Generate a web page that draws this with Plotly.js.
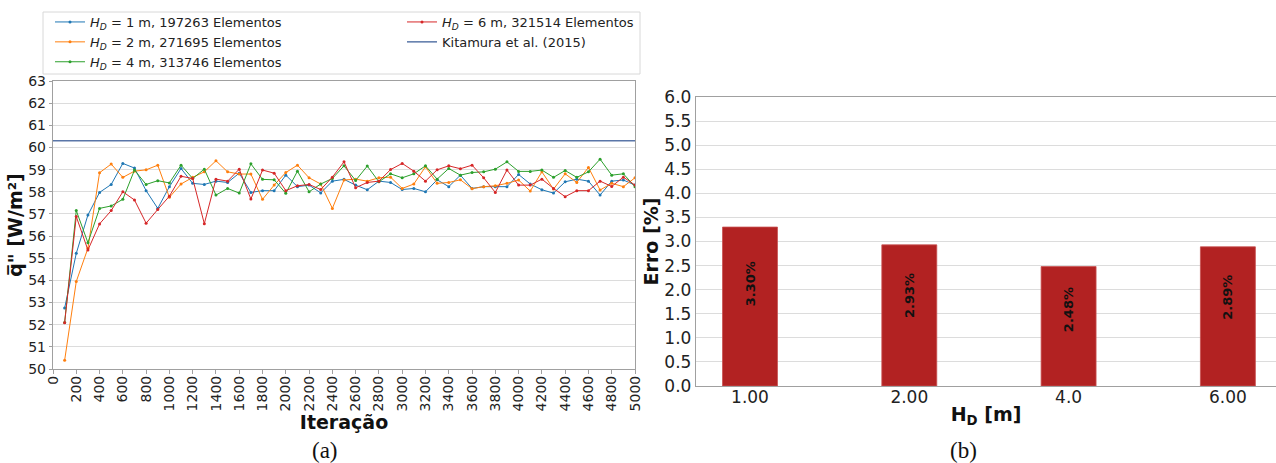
<!DOCTYPE html>
<html>
<head>
<meta charset="utf-8">
<script src="https://cdn.plot.ly/plotly-3.0.1.min.js"></script>
<style>html,body{margin:0;padding:0;background:#fff;}#chart{width:1276px;height:463px;}</style>
</head>
<body>
<div id="chart"></div>
<script>
// ---- data (a) ----
const iteracoes = [100,200,300,400,500,600,700,800,900,1000,1100,1200,1300,1400,1500,1600,1700,1800,1900,2000,
  2100,2200,2300,2400,2500,2600,2700,2800,2900,3000,3100,3200,3300,3400,3500,3600,3700,3800,3900,4000,
  4100,4200,4300,4400,4500,4600,4700,4800,4900,5000];
const qH1 = [52.75,55.22,56.95,57.97,58.33,59.28,59.07,58.05,57.25,58.23,59.05,58.38,58.33,58.48,58.42,58.84,57.97,58.05,58.05,58.75,
  58.23,58.30,57.95,58.48,58.56,58.30,58.09,58.48,58.42,58.10,58.15,58.00,58.54,58.23,58.75,58.15,58.23,58.23,58.23,58.78,
  58.35,58.09,57.94,58.45,58.57,58.48,57.85,58.48,58.53,58.30];
const qH2 = [50.39,53.95,55.45,58.86,59.25,58.65,58.93,58.99,59.20,57.75,58.35,58.65,58.90,59.40,58.90,58.80,58.80,57.66,58.30,58.87,
  59.20,58.63,58.35,57.25,58.53,58.57,58.48,58.63,58.66,58.15,58.35,59.13,58.38,58.42,58.54,58.14,58.23,58.27,58.38,58.53,
  58.03,58.90,58.12,58.81,58.42,59.10,58.08,58.38,58.23,58.63];
const qH4 = [52.10,57.15,55.70,57.25,57.36,57.66,58.98,58.33,58.50,58.40,59.20,58.60,59.02,57.85,58.15,57.94,59.26,58.56,58.54,57.93,
  58.93,58.00,58.35,58.60,59.17,58.51,59.16,58.45,58.81,58.63,58.81,59.17,58.57,59.05,58.75,58.87,58.90,59.02,59.35,58.92,
  58.92,58.98,58.65,58.96,58.65,58.90,59.47,58.75,58.81,58.23];
const qH6 = [52.09,56.88,55.37,56.55,57.15,58.00,57.63,56.58,57.20,57.80,58.70,58.60,56.56,58.57,58.48,59.02,57.67,58.98,58.84,58.05,
  58.27,58.33,58.10,58.66,59.35,58.18,58.42,58.48,59.00,59.28,58.93,58.48,58.99,59.17,59.04,59.20,58.63,57.97,58.98,58.30,
  58.30,58.57,58.15,57.78,58.05,58.05,58.48,58.24,58.66,58.30];
const kitamuraX = [0, 5000];
const kitamuraY = [60.3, 60.3];
const seriesNames = [
  '<i>H</i><sub><i>D</i></sub> = 1 m, 197263 Elementos',
  '<i>H</i><sub><i>D</i></sub> = 2 m, 271695 Elementos',
  '<i>H</i><sub><i>D</i></sub> = 4 m, 313746 Elementos',
  '<i>H</i><sub><i>D</i></sub> = 6 m, 321514 Elementos',
  'Kitamura et al. (2015)'
];
// ---- data (b) ----
const hdLabels = ['1.00','2.00','4.0','6.00'];
const erro = [3.30, 2.93, 2.48, 2.89];

const W = 1276, H = 463;
const px = v => v / W;
const py = v => 1 - v / H;
const FONT = 'DejaVu Sans, sans-serif';
const colors = ['#1f77b4','#ff7f0e','#2ca02c','#d62728'];
const series = [qH1, qH2, qH4, qH6];

const traces = series.map((ys, i) => ({
  type: 'scatter', mode: 'lines+markers', x: iteracoes, y: ys, name: seriesNames[i],
  line: {color: colors[i], width: 1}, marker: {color: colors[i], size: 3},
  xaxis: 'x', yaxis: 'y', legend: i < 3 ? 'legend' : 'legend2'
}));
traces.push({
  type: 'scatter', mode: 'lines', x: kitamuraX, y: kitamuraY, name: seriesNames[4],
  line: {color: '#5a76a8', width: 1.5}, xaxis: 'x', yaxis: 'y', legend: 'legend2'
});
traces.push({
  type: 'bar', x: hdLabels, y: erro, marker: {color: '#b22222', line: {color: '#c85050', width: 0.8}},
  width: 0.345, xaxis: 'x2', yaxis: 'y2', showlegend: false, hoverinfo: 'skip'
});

const annotations = erro.map((v, i) => ({
  xref: 'x2', yref: 'y2', x: i, y: v * 0.64, text: '<b>' + v.toFixed(2) + '%</b>',
  textangle: -90, showarrow: false, xanchor: 'center', yanchor: 'middle',
  font: {family: FONT, size: 13, color: '#111'}
}));
annotations.push({xref: 'paper', yref: 'paper', x: px(325), y: py(450), xanchor: 'center', yanchor: 'middle',
  text: '(a)', showarrow: false, font: {family: 'Liberation Serif, serif', size: 23, color: '#111'}});
annotations.push({xref: 'paper', yref: 'paper', x: px(963), y: py(450), xanchor: 'center', yanchor: 'middle',
  text: '(b)', showarrow: false, font: {family: 'Liberation Serif, serif', size: 23, color: '#111'}});

const axLine = '#a0a0a0';
const layout = {
  width: W, height: H, margin: {l: 0, r: 0, t: 0, b: 0},
  paper_bgcolor: '#fff', plot_bgcolor: '#fff',
  font: {family: FONT, color: '#222'},
  showlegend: true,
  xaxis: {
    domain: [px(53), px(635)], range: [0, 5000], dtick: 200, tick0: 0, tickangle: -90,
    showgrid: false, zeroline: false, showline: true, mirror: true, linecolor: axLine, linewidth: 1.2,
    ticks: 'outside', ticklen: 4, tickcolor: axLine, tickfont: {size: 14, color: '#222'},
    automargin: false, ticklabelstandoff: -4,
    title: {text: '<b>Iteração</b>', font: {size: 19, color: '#111'}, standoff: 0}
  },
  yaxis: {
    domain: [py(369), py(81)], range: [50, 63], dtick: 1, anchor: 'x',
    showgrid: true, gridcolor: '#dcdcdc', gridwidth: 1, zeroline: false,
    showline: true, mirror: true, linecolor: axLine, linewidth: 1.2,
    ticks: 'outside', ticklen: 3, tickcolor: axLine, tickfont: {size: 14, color: '#222'},
    automargin: false,
    title: {text: '<b>q̅" [W/m²]</b>', font: {size: 19, color: '#111'}, standoff: 0}
  },
  xaxis2: {
    domain: [px(696), 1], range: [-0.339, 3.302], type: 'category', anchor: 'y2',
    showgrid: false, zeroline: false, showline: true, mirror: true, linecolor: axLine, linewidth: 1.2,
    ticks: '', tickfont: {size: 17, color: '#222'}, automargin: false, ticklabelstandoff: -5,
    title: {text: '<b>H<sub>D</sub> [m]</b>', font: {size: 19, color: '#111'}, standoff: 2}
  },
  yaxis2: {
    domain: [py(386), py(97)], range: [0, 6], dtick: 0.5, tick0: 0, tickformat: '.1f', anchor: 'x2',
    showgrid: true, gridcolor: '#dcdcdc', gridwidth: 1, zeroline: false,
    showline: true, mirror: false, linecolor: axLine, linewidth: 1.2,
    ticks: '', tickfont: {size: 17, color: '#222'}, automargin: false,
    title: {text: '<b>Erro [%]</b>', font: {size: 19, color: '#111'}, standoff: 0}
  },
  legend: {
    x: px(50), y: py(7), xanchor: 'left', yanchor: 'top', bgcolor: 'rgba(0,0,0,0)',
    font: {size: 13, color: '#222'}, tracegroupgap: 0, itemwidth: 30
  },
  legend2: {
    x: px(402), y: py(7), xanchor: 'left', yanchor: 'top', bgcolor: 'rgba(0,0,0,0)',
    font: {size: 13, color: '#222'}, tracegroupgap: 0, itemwidth: 30
  },
  shapes: [{
    type: 'rect', xref: 'paper', yref: 'paper', x0: px(43), x1: px(640), y0: py(74), y1: py(12),
    line: {color: '#d8d8d8', width: 1}, fillcolor: 'rgba(0,0,0,0)'
  }],
  bargap: 0,
  annotations: annotations
};

Plotly.newPlot('chart', traces, layout, {staticPlot: true, displayModeBar: false});
</script>
</body>
</html>
